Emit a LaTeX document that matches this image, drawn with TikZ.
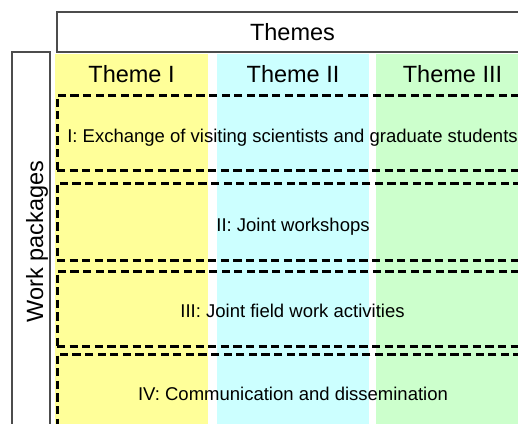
\documentclass[tikz,border=0pt]{standalone}
\usepackage{fontspec}
\setmainfont{Liberation Sans}
\definecolor{colyellow}{HTML}{FFFF99}
\definecolor{colcyan}{HTML}{CCFFFF}
\definecolor{colgreen}{HTML}{CCFFCC}
\begin{document}
\begin{tikzpicture}[x=1pt,y=-1pt,
  framebox/.style={draw=black!70, line width=1.2pt, inner sep=0pt, outer sep=0pt},
  wpbox/.style={draw=black, line width=3pt, dash pattern=on 8.2pt off 4.4pt, inner sep=0pt, outer sep=0pt, minimum width=471pt},
  colbox/.style={inner sep=0pt, outer sep=0pt, minimum height=390pt},
  bigtext/.style={font=\fontsize{23.5}{26}\selectfont, inner sep=0pt, anchor=base},
  smalltext/.style={font=\fontsize{18.5}{21}\selectfont, inner sep=0pt, anchor=base}]
\useasboundingbox (0,0) rectangle (518,423);
\clip (0,0) rectangle (518,423);
% theme columns
\node[colbox, fill=colyellow, minimum width=153pt] (col1) at (131.5,249) {};
\node[colbox, fill=colcyan, minimum width=152pt] (col2) at (293,249) {};
\node[colbox, fill=colgreen, minimum width=154pt] (col3) at (453,249) {};
% header frames
\node[framebox, minimum width=471pt, minimum height=40pt] (themes) at (292.5,32) {};
\node[bigtext] (themeslbl) at (292.5,40) {Themes};
\node[framebox, minimum width=38pt, minimum height=379pt] (wp) at (31,241.5) {};
\node[bigtext, rotate=90] (wplbl) at (43,241.5) {Work packages};
% theme labels
\node[bigtext] (t1) at (131.5,82) {Theme I};
\node[bigtext] (t2) at (293,82) {Theme II};
\node[bigtext] (t3) at (452.5,82) {Theme III};
% work package boxes
\node[wpbox, minimum height=75pt] (wp1) at (292.5,132.5) {};
\node[smalltext] (wp1lbl) at (292.5,142) {I: Exchange of visiting scientists and graduate students};
\node[wpbox, minimum height=77pt] (wp2) at (292.5,221.5) {};
\node[smalltext] (wp2lbl) at (293,231.5) {II: Joint workshops};
\node[wpbox, minimum height=75pt] (wp3) at (292.5,308.5) {};
\node[smalltext] (wp3lbl) at (292.5,317) {III: Joint field work activities};
\node[wpbox, minimum height=77pt] (wp4) at (292.5,392.5) {};
\node[smalltext] (wp4lbl) at (293,400) {IV: Communication and dissemination};
\end{tikzpicture}
\end{document}
